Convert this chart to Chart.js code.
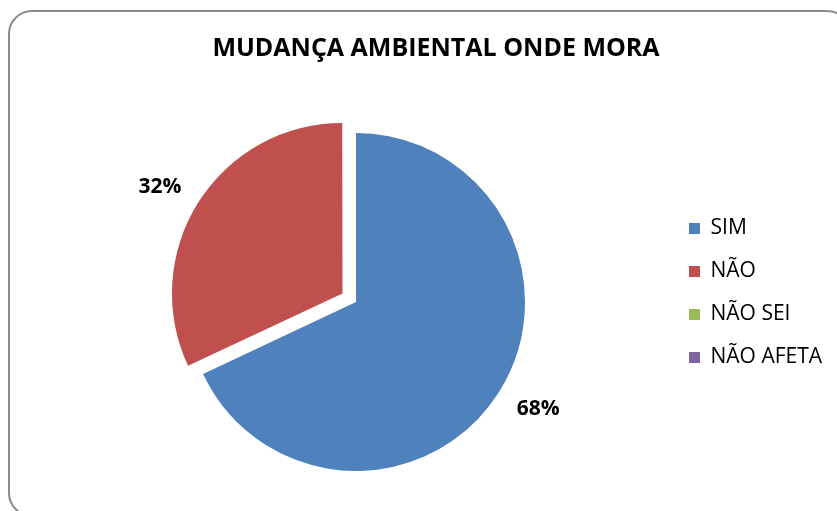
<!DOCTYPE html>
<html lang="pt">
<head>
<meta charset="utf-8">
<title>Mudança ambiental onde mora</title>
<script src="https://cdn.jsdelivr.net/npm/chart.js@4.4.1/dist/chart.umd.min.js"></script>
<style>
    html, body {
        margin: 0;
        padding: 0;
        background: #fff;
        overflow: hidden;
    }
    #wrap {
        position: relative;
        width: 837px;
        height: 511px;
    }
    /* rounded frame around the chart */
    #frame {
        position: absolute;
        left: 8px;
        top: 10px;
        width: 843px;
        height: 507px;
        box-sizing: border-box;
        border: 2px solid #8c8c8c;
        border-radius: 24px;
    }
    #pie-chart {
        position: absolute;
        left: 0;
        top: 0;
    }
</style>
</head>
<body>
<div id="wrap">
    <div id="frame"></div>
    <canvas id="pie-chart" width="837" height="511"></canvas>
</div>
<script>

const titleText = 'MUDANÇA AMBIENTAL ONDE MORA';
const answers = ['SIM', 'NÃO', 'NÃO SEI', 'NÃO AFETA'];
const percents = [68, 32, 0, 0];
const sliceColors = ['#4F81BD', '#C0504D', '#9BBB59', '#8064A2'];

const pieCtx = document.getElementById('pie-chart');

Chart.defaults.font.family = "'Open Sans', 'Noto Sans', sans-serif";
Chart.defaults.color = '#000';

// writes the share of each slice just outside its edge
const percentLabels = {
    id: 'percentLabels',
    afterDatasetsDraw(chart) {
        const ctx = chart.ctx;
        const meta = chart.getDatasetMeta(0);
        const values = chart.data.datasets[0].data;
        const total = values.reduce((a, b) => a + b, 0);

        ctx.save();
        ctx.font = "bold 21px 'Open Sans', sans-serif";
        ctx.fillStyle = '#000';
        ctx.textAlign = 'center';
        ctx.textBaseline = 'middle';

        meta.data.forEach((arc, i) => {
            if (!values[i]) return;
            const {x, y, startAngle, endAngle, outerRadius} = arc.getProps(['x', 'y', 'startAngle', 'endAngle', 'outerRadius'], true);
            // labels sit a little counter-clockwise of the slice middle
            const mid = (startAngle + endAngle) / 2 - 0.035;
            const shift = (arc.options.offset || 0) / 4;
            const dist = outerRadius * 1.25 + shift;
            const text = Math.round(values[i] / total * 100) + '%';
            ctx.fillText(text, x + Math.cos(mid) * dist, y + Math.sin(mid) * dist);
        });
        ctx.restore();
    }
};

new Chart(pieCtx, {
    type: 'pie',
    data: {
        labels: answers,
        datasets: [{
            data: percents,
            backgroundColor: sliceColors,
            borderWidth: 0,
            // only NÃO is pulled away from the centre
            offset: [0, 64, 0, 0],
            hoverOffset: 0
        }]
    },
    options: {
        responsive: false,
        animation: false,
        radius: 169,
        layout: {
            padding: { top: 10, left: 45, right: 10, bottom: 103 }
        },
        events: [],
        plugins: {
            title: {
                display: true,
                text: titleText,
                color: '#000',
                font: { size: 25, weight: 'bold' },
                padding: { top: 24, bottom: 132 }
            },
            legend: {
                position: 'right',
                align: 'start',
                fullSize: false,
                maxWidth: 160,
                labels: {
                    boxWidth: 11,
                    boxHeight: 11,
                    padding: 22,
                    color: '#000',
                    font: { size: 21 }
                }
            },
            tooltip: { enabled: false }
        }
    },
    plugins: [percentLabels]
});

</script>
</body>
</html>
